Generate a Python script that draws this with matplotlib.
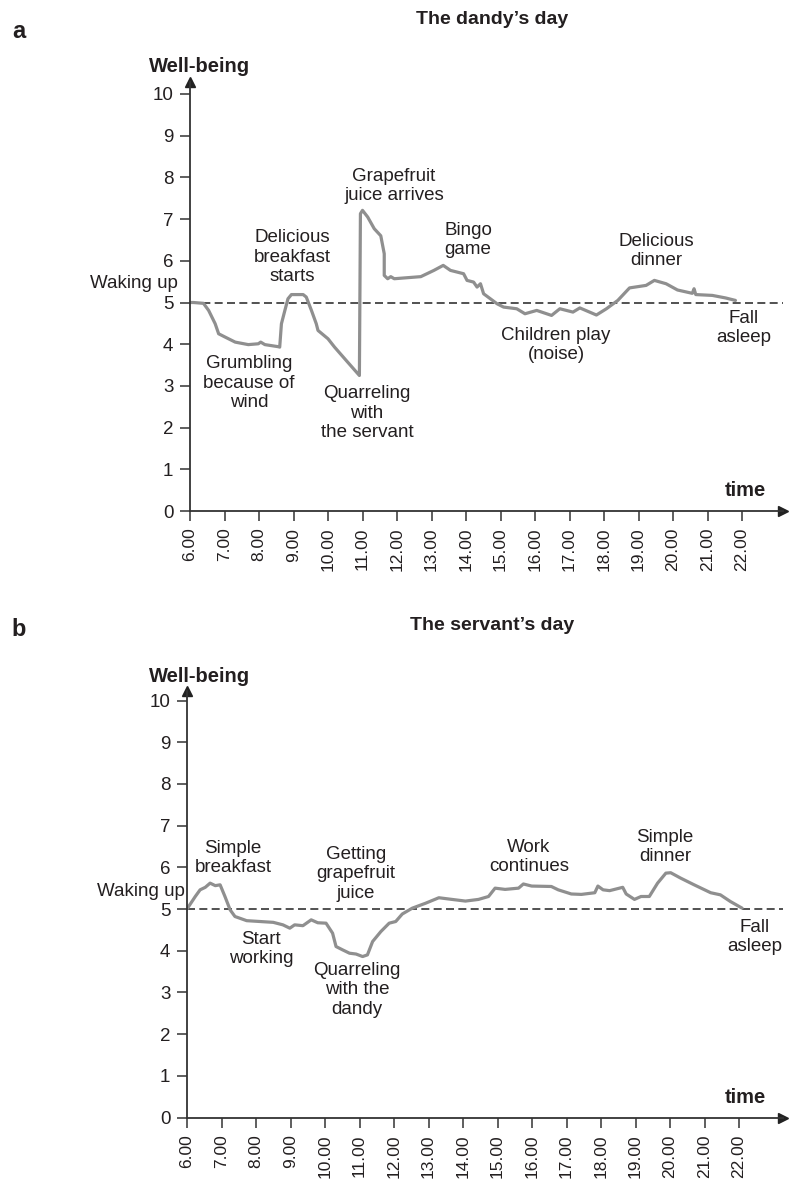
import numpy as np
import matplotlib
matplotlib.use("Agg")
from matplotlib import pyplot as plt

plt.rcParams['font.family'] = ['Liberation Sans', 'DejaVu Sans']

TXT = '#231f20'
LINE = '#8f8f8f'

# Dandy's day: time (hours) and well-being
dandy_t = [6.0, 6.1, 6.39, 6.54, 6.73, 6.83, 7.02, 7.31, 7.69, 7.98, 8.05, 8.17, 8.56, 8.6,
           8.65, 8.75, 8.84, 8.94, 9.28, 9.37, 9.52, 9.66, 9.71, 10.0, 10.19, 10.57, 10.91,
           10.94, 11.0, 11.15, 11.34, 11.53, 11.63, 11.63, 11.73, 11.82, 11.92, 12.69, 13.07,
           13.34, 13.55, 13.93, 14.03, 14.22, 14.32, 14.42, 14.51, 14.9, 15.09, 15.47, 15.71,
           16.05, 16.48, 16.72, 17.1, 17.3, 17.78, 18.07, 18.4, 18.74, 19.22, 19.46, 19.8,
           20.13, 20.56, 20.61, 20.66, 21.14, 21.52, 21.81]
dandy_w = [5.0, 5.0, 4.98, 4.81, 4.49, 4.25, 4.17, 4.05, 3.99, 4.01, 4.05, 3.99, 3.94, 3.93,
           4.49, 4.81, 5.09, 5.19, 5.19, 5.13, 4.81, 4.49, 4.33, 4.13, 3.93, 3.57, 3.25,
           7.13, 7.21, 7.05, 6.77, 6.6, 6.17, 5.65, 5.57, 5.62, 5.57, 5.62, 5.77,
           5.89, 5.77, 5.69, 5.53, 5.49, 5.37, 5.45, 5.21, 4.97, 4.89, 4.85, 4.73,
           4.81, 4.69, 4.85, 4.77, 4.87, 4.7, 4.85, 5.05, 5.35, 5.41, 5.53, 5.45,
           5.3, 5.22, 5.33, 5.19, 5.17, 5.11, 5.05]

# Servant's day
servant_t = [6.0, 6.08, 6.24, 6.38, 6.53, 6.67, 6.82, 6.96, 7.1, 7.25, 7.39, 7.73, 8.5, 8.78,
             8.98, 9.12, 9.36, 9.6, 9.79, 10.03, 10.22, 10.32, 10.51, 10.71, 10.9, 11.09,
             11.23, 11.38, 11.62, 11.86, 12.05, 12.24, 12.53, 12.92, 13.3, 13.68, 14.07,
             14.45, 14.74, 14.93, 15.22, 15.61, 15.75, 15.99, 16.56, 16.76, 17.14, 17.43,
             17.82, 17.91, 18.06, 18.25, 18.63, 18.73, 18.97, 19.16, 19.4, 19.64, 19.88,
             20.02, 20.31, 20.7, 21.18, 21.46, 21.75, 22.09]
servant_w = [5.0, 5.1, 5.3, 5.46, 5.52, 5.62, 5.56, 5.58, 5.3, 4.98, 4.82, 4.72, 4.68, 4.62,
             4.54, 4.62, 4.6, 4.74, 4.67, 4.66, 4.42, 4.1, 4.02, 3.94, 3.92, 3.86,
             3.9, 4.22, 4.46, 4.66, 4.7, 4.88, 5.02, 5.14, 5.27, 5.23, 5.19,
             5.23, 5.3, 5.5, 5.47, 5.5, 5.6, 5.55, 5.54, 5.46, 5.36, 5.35,
             5.39, 5.55, 5.46, 5.44, 5.52, 5.36, 5.23, 5.3, 5.3, 5.62, 5.86,
             5.87, 5.74, 5.58, 5.39, 5.34, 5.18, 5.02]

hours = list(range(6, 23))
hour_labels = [f'{h}.00' for h in hours]
levels = list(range(0, 11))

dandy_notes = ['Grumbling\nbecause of\nwind', 'Delicious\nbreakfast\nstarts',
               'Quarreling\nwith\nthe servant', 'Grapefruit\njuice arrives', 'Bingo\ngame',
               'Children play\n(noise)', 'Delicious\ndinner', 'Fall\nasleep']
dandy_note_px = [(249, 383), (292, 257), (367, 413), (394, 186), (468, 240),
                 (556, 345), (656, 251), (744, 328)]

servant_notes = ['Simple\nbreakfast', 'Start\nworking', 'Getting\ngrapefruit\njuice',
                 'Quarreling\nwith the\ndandy', 'Work\ncontinues', 'Simple\ndinner',
                 'Fall\nasleep']
servant_note_px = [(233, 858), (261, 949), (356, 874), (357, 990), (529, 857),
                   (665, 847), (755, 937)]

W, H = 790, 1180
fig = plt.figure(figsize=(7.9, 11.8), dpi=100)


def panel(x0, y0, top, t, w, notes, note_px, title, letter, title_y, letter_y, wake_px):
    # x0: pixel of y-axis, y0: pixel of y=0, top: pixel of axis top
    pxh, pxu = 34.5, 41.7
    right = 783
    ax = fig.add_axes([x0 / W, 1 - y0 / H, (right - x0) / W, (y0 - top) / H])
    ax.set_xlim(6, 6 + (right - x0) / pxh)
    ax.set_ylim(0, (y0 - top) / pxu)

    def d(px, py):
        return 6 + (px - x0) / pxh, (y0 - py) / pxu

    ax.axhline(5, color='#333333', lw=1.2, ls=(0, (4.8, 2.6)), zorder=1)
    ax.plot(t, w, color=LINE, lw=2.3, solid_joinstyle='round', solid_capstyle='round', zorder=2)

    for s in ['top', 'right']:
        ax.spines[s].set_visible(False)
    for s in ['left', 'bottom']:
        ax.spines[s].set_color('#333333')
        ax.spines[s].set_linewidth(1.3)
    ax.plot([0], [1], marker='^', ms=7, color='#222222', transform=ax.transAxes, clip_on=False)
    ax.plot([1], [0], marker='>', ms=7, color='#222222', transform=ax.transAxes, clip_on=False)

    ax.set_yticks(levels)
    ax.set_yticklabels([str(v) for v in levels])
    ax.set_xticks(hours)
    ax.set_xticklabels(hour_labels, rotation=90)
    ax.tick_params(axis='y', direction='out', length=7, width=1.1, color='#333333',
                   labelsize=13.5, labelcolor=TXT, pad=5)
    ax.tick_params(axis='x', direction='out', length=7, width=1.1, color='#333333',
                   labelsize=12.5, labelcolor=TXT, pad=5)

    for txt, (px, py) in zip(notes, note_px):
        x, y = d(px, py)
        ax.text(x, y, txt, ha='center', va='center', fontsize=13.5, color=TXT,
                linespacing=1.16, clip_on=False)
    x, y = d(wake_px[0], wake_px[1])
    ax.text(x, y, 'Waking up', ha='right', va='center', fontsize=13.5, color=TXT, clip_on=False)
    x, y = d(745, y0 - 20)
    ax.text(x, y, 'time', ha='center', va='center', fontsize=14.5, fontweight='bold', color=TXT)
    x, y = d(200, top - 15)
    ax.text(x, y, 'Well-being', ha='center', va='center', fontsize=14.5, fontweight='bold',
            color=TXT, clip_on=False)

    fig.text(492 / W, 1 - title_y / H, title, ha='center', va='center', fontsize=14,
             fontweight='bold', color=TXT)
    fig.text(19 / W, 1 - letter_y / H, letter, ha='center', va='center', fontsize=17,
             fontweight='bold', color=TXT)
    return ax


panel(190, 511, 82, dandy_t, dandy_w, dandy_notes, dandy_note_px,
      'The dandy\u2019s day', 'a', 20, 32, (178, 283))
panel(187, 1117.5, 691, servant_t, servant_w, servant_notes, servant_note_px,
      'The servant\u2019s day', 'b', 625, 630, (185, 891))

fig.savefig('out.png', dpi=100)
